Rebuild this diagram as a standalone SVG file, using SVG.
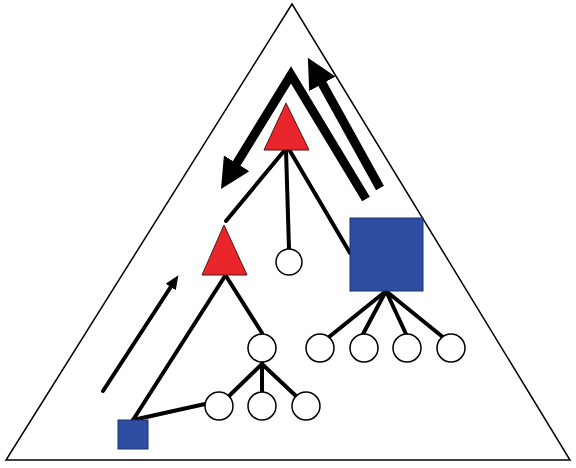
<svg xmlns="http://www.w3.org/2000/svg" width="576" height="468" viewBox="0 0 576 468">
<style>
.edge{stroke:#000;stroke-width:4;fill:none;stroke-linecap:round}
.circ{fill:#fff;stroke:#000;stroke-width:1.5}
.red{fill:#e8262c;stroke:#5a1010;stroke-width:1}
.blue{fill:#2f4ea3;stroke:#1c2e66;stroke-width:1}
.big{stroke:#000;stroke-width:9;fill:none;stroke-linejoin:miter}
</style>
<defs>
<marker id="bigHead" markerUnits="userSpaceOnUse" markerWidth="32" markerHeight="32" refX="9" refY="15" orient="auto">
<path d="M0,0 L30,15 L0,30 z" fill="#000"/>
</marker>
<marker id="thinHead" markerUnits="userSpaceOnUse" markerWidth="16" markerHeight="14" refX="6" refY="6" orient="auto">
<path d="M0,0 L14,6 L0,12 z" fill="#000"/>
</marker>
</defs>
<rect width="576" height="468" fill="#fff"/>
<polygon id="frame" points="292,4 6,460 570,460" fill="none" stroke="#000" stroke-width="1.5"/>
<g id="connectors">
<line class="edge" x1="286" y1="150" x2="289" y2="249"/>
<line class="edge" x1="284" y1="151" x2="226" y2="221"/>
<line class="edge" x1="290" y1="151" x2="350" y2="253"/>
<line class="edge" x1="225" y1="276" x2="133" y2="420"/>
<line class="edge" x1="226" y1="276" x2="262" y2="333"/>
<line class="edge" x1="133" y1="420" x2="205" y2="404"/>
<line class="edge" x1="262" y1="362" x2="262" y2="392"/>
<line class="edge" x1="262" y1="364" x2="229" y2="396"/>
<line class="edge" x1="262" y1="364" x2="296" y2="396"/>
<line class="edge" x1="386" y1="291" x2="329" y2="337"/>
<line class="edge" x1="386" y1="291" x2="363" y2="334"/>
<line class="edge" x1="386" y1="291" x2="406" y2="334"/>
<line class="edge" x1="386" y1="291" x2="444" y2="338"/>
<polyline class="big" points="366,199 291,75 232,171" marker-end="url(#bigHead)"/>
<line class="big" x1="380" y1="188" x2="318" y2="76" marker-end="url(#bigHead)"/>
<line class="edge" stroke-linecap="butt" x1="103" y1="391" x2="174" y2="282" marker-end="url(#thinHead)"/>
</g>
<g id="tri1"><polygon class="red" points="286,103 264,150 309,150"/></g>
<g id="tri2"><polygon class="red" points="224,225 202,275 247,275"/></g>
<g id="sq1"><rect class="blue" x="350" y="218" width="73" height="73"/></g>
<g id="sq2"><rect class="blue" x="118" y="420" width="30" height="29"/></g>
<g id="c1"><circle class="circ" cx="289" cy="262" r="13"/></g>
<g id="c2"><circle class="circ" cx="262" cy="348" r="14"/></g>
<g id="c3"><circle class="circ" cx="219" cy="406" r="14"/></g>
<g id="c4"><circle class="circ" cx="262" cy="406" r="14"/></g>
<g id="c5"><circle class="circ" cx="306" cy="406" r="14"/></g>
<g id="c6"><circle class="circ" cx="320" cy="348" r="14"/></g>
<g id="c7"><circle class="circ" cx="364" cy="348" r="14"/></g>
<g id="c8"><circle class="circ" cx="407" cy="348" r="14"/></g>
<g id="c9"><circle class="circ" cx="451" cy="348" r="14"/></g>
</svg>
